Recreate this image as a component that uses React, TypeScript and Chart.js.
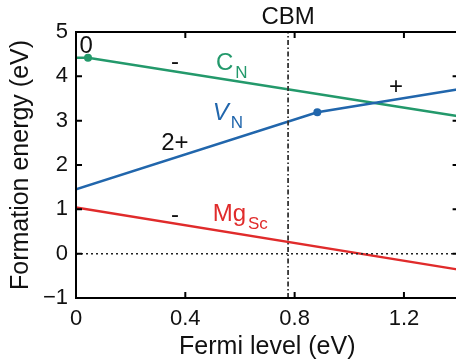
import { useEffect, useRef } from "react";
import { Chart, registerables } from "chart.js";

Chart.register(...registerables);

const FONT = "'Liberation Sans', Arial, Helvetica, sans-serif";

// Axis ticks
const xTickValues = [0, 0.4, 0.8, 1.2];
const yTickValues = [-1, 0, 1, 2, 3, 4, 5];
const xMin = 0;
const xMax = 1.4;
const yMin = -1;
const yMax = 5;

// Series (Fermi level eV, formation energy eV)
const cnX = [0, 0.044, 1.4];
const cnY = [4.42, 4.42, 3.1];
const vnX = [0, 0.883, 1.4];
const vnY = [1.45, 3.19, 3.71];
const mgX = [0, 1.4];
const mgY = [1.04, -0.36];

// Reference levels
const cbmLevel = 0.776;
const zeroLevel = 0;

const GREEN = "#23996b";
const BLUE = "#2166ac";
const RED = "#e02b2b";

type Lbl = {
  text: string;
  sub?: string;
  x: number;
  y: number;
  color: string;
  align: CanvasTextAlign;
  italic?: boolean;
  size?: number;
};

const annotations: Lbl[] = [
  { text: "0", x: 0.037, y: 4.53, color: "#111", align: "center" },
  { text: "-", x: 0.362, y: 4.16, color: "#111", align: "center" },
  { text: "C", sub: "N", x: 0.512, y: 4.14, color: GREEN, align: "left" },
  { text: "V", sub: "N", x: 0.5, y: 3.01, color: BLUE, align: "left", italic: true },
  { text: "2+", x: 0.362, y: 2.34, color: "#111", align: "center" },
  { text: "+", x: 1.171, y: 3.6, color: "#111", align: "center" },
  { text: "-", x: 0.362, y: 0.71, color: "#111", align: "center" },
  { text: "Mg", sub: "Sc", x: 0.5, y: 0.73, color: RED, align: "left" },
  { text: "CBM", x: cbmLevel, y: 5.34, color: "#111", align: "center" },
];

const toPts = (xs: number[], ys: number[]) => xs.map((x, i) => ({ x, y: ys[i] }));

const decor = {
  id: "decor",
  afterDraw(chart: any) {
    const { ctx, chartArea: a, scales } = chart;
    const xs = scales.x;
    const ys = scales.y;
    ctx.save();
    ctx.strokeStyle = "#000";
    ctx.lineWidth = 2;
    ctx.strokeRect(a.left, a.top, a.right - a.left, a.bottom - a.top);
    const tl = 6;
    ctx.beginPath();
    xTickValues.forEach((v) => {
      const px = xs.getPixelForValue(v);
      ctx.moveTo(px, a.bottom);
      ctx.lineTo(px, a.bottom - tl);
      ctx.moveTo(px, a.top);
      ctx.lineTo(px, a.top + tl);
    });
    yTickValues.forEach((v) => {
      const py = ys.getPixelForValue(v);
      ctx.moveTo(a.left, py);
      ctx.lineTo(a.left + tl, py);
      ctx.moveTo(a.right, py);
      ctx.lineTo(a.right - tl, py);
    });
    ctx.stroke();

    annotations.forEach((l) => {
      const size = l.size ?? 24;
      const px = xs.getPixelForValue(l.x);
      const py = ys.getPixelForValue(l.y);
      ctx.fillStyle = l.color;
      ctx.textBaseline = l.text === "CBM" ? "middle" : "alphabetic";
      ctx.font = `${l.italic ? "italic " : ""}${size}px ${FONT}`;
      ctx.textAlign = l.align;
      ctx.fillText(l.text, px, py);
      if (l.sub) {
        const w = ctx.measureText(l.text).width;
        ctx.font = `${Math.round(size * 0.7)}px ${FONT}`;
        ctx.textAlign = "left";
        ctx.fillText(l.sub, px + w + 2, py + 8);
      }
    });
    ctx.restore();
  },
};

export default function App() {
  const ref = useRef<HTMLCanvasElement>(null);
  useEffect(() => {
    const chart = new Chart(ref.current as HTMLCanvasElement, {
      type: "scatter",
      data: {
        datasets: [
          {
            label: "zero",
            data: [
              { x: xMin, y: zeroLevel },
              { x: xMax, y: zeroLevel },
            ],
            showLine: true,
            borderColor: "#222",
            borderWidth: 1.5,
            borderDash: [2, 3],
            pointRadius: 0,
          },
          {
            label: "CBM",
            data: [
              { x: cbmLevel, y: yMin },
              { x: cbmLevel, y: yMax },
            ],
            showLine: true,
            borderColor: "#333",
            borderWidth: 1.8,
            borderDash: [5, 2.5, 1.5, 2.5],
            pointRadius: 0,
          },
          {
            label: "Mg_Sc",
            data: toPts(mgX, mgY),
            showLine: true,
            borderColor: RED,
            borderWidth: 2.5,
            pointRadius: 0,
          },
          {
            label: "V_N",
            data: toPts(vnX, vnY),
            showLine: true,
            borderColor: BLUE,
            backgroundColor: BLUE,
            borderWidth: 2.5,
            pointRadius: [0, 4, 0],
            pointBorderWidth: 0,
          },
          {
            label: "C_N",
            data: toPts(cnX, cnY),
            showLine: true,
            borderColor: GREEN,
            backgroundColor: GREEN,
            borderWidth: 2.5,
            pointRadius: [0, 4, 0],
            pointBorderWidth: 0,
          },
        ],
      },
      options: {
        responsive: false,
        animation: false,
        layout: { padding: { top: 32, right: 3.4, left: 0, bottom: 0 } },
        plugins: { legend: { display: false }, tooltip: { enabled: false } },
        scales: {
          x: {
            type: "linear",
            min: xMin,
            max: xMax,
            afterBuildTicks: (s: any) => {
              s.ticks = xTickValues.map((v) => ({ value: v }));
            },
            afterFit: (s: any) => {
              s.height = 64;
            },
            grid: { display: false, drawTicks: false },
            border: { display: false },
            ticks: {
              color: "#111",
              padding: 8,
              maxRotation: 0,
              font: { family: FONT, size: 22 },
              callback: (v: any) => String(v),
            },
            title: {
              display: true,
              text: "Fermi level (eV)",
              color: "#111",
              font: { family: FONT, size: 25 },
              padding: { top: 10, bottom: 0 },
            },
          },
          y: {
            type: "linear",
            min: yMin,
            max: yMax,
            afterBuildTicks: (s: any) => {
              s.ticks = yTickValues.map((v) => ({ value: v }));
            },
            afterFit: (s: any) => {
              s.width = 76;
            },
            grid: { display: false, drawTicks: false },
            border: { display: false },
            ticks: {
              color: "#111",
              padding: 8,
              font: { family: FONT, size: 22 },
              callback: (v: any) => (Number(v) < 0 ? "\u2212" + Math.abs(Number(v)) : String(v)),
            },
            title: {
              display: true,
              text: "Formation energy (eV)",
              color: "#111",
              font: { family: FONT, size: 25 },
              padding: { top: 6, bottom: 0 },
            },
          },
        },
      },
      plugins: [decor],
    } as any);
    return () => chart.destroy();
  }, []);
  return (
    <div
      style={{
        position: "fixed",
        left: 0,
        top: 0,
        width: 456,
        height: 362,
        overflow: "hidden",
        background: "#fff",
      }}
    >
      <canvas ref={ref} width={462} height={362} style={{ display: "block", width: 462, height: 362 }} />
    </div>
  );
}
